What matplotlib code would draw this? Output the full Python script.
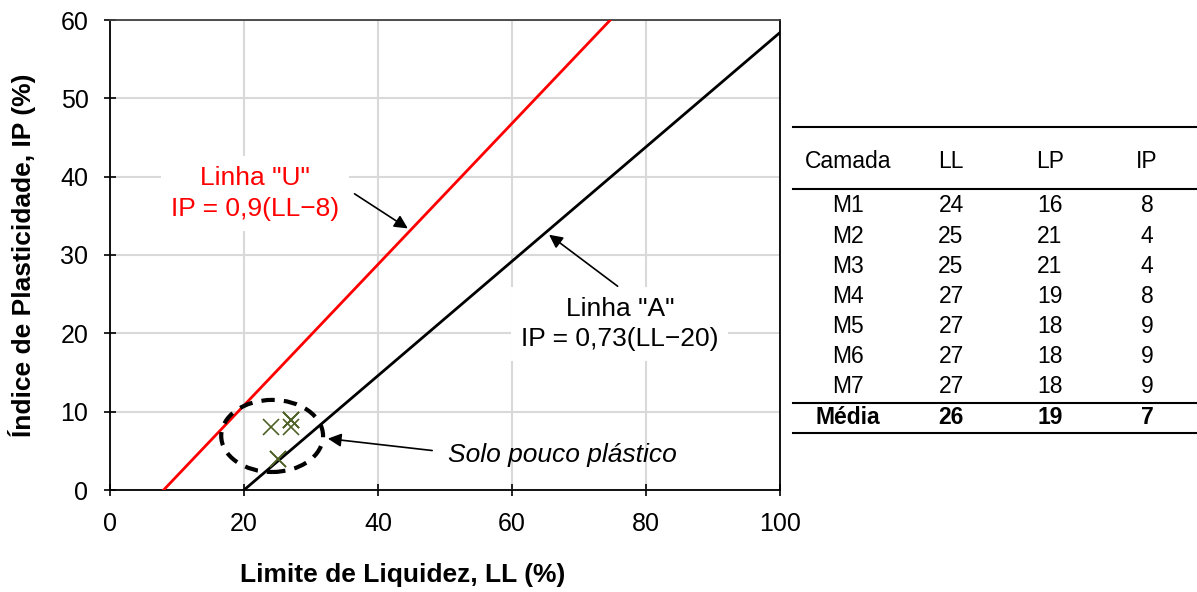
import numpy as np
import matplotlib
matplotlib.use("Agg")
import matplotlib.pyplot as plt
from matplotlib.patches import Ellipse
from matplotlib.lines import Line2D

plt.rcParams["font.family"] = ["Liberation Sans", "DejaVu Sans"]

# sample data (LL, IP) per layer
camadas = ["M1", "M2", "M3", "M4", "M5", "M6", "M7"]
ll = [24, 25, 25, 27, 27, 27, 27]
lp = [16, 21, 21, 19, 18, 18, 18]
ip = [8, 4, 4, 8, 9, 9, 9]
media = ["Média", "26", "19", "7"]
headers = ["Camada", "LL", "LP", "IP"]

# Casagrande reference lines
u_slope, u_ll0 = 0.9, 8
a_slope, a_ll0 = 0.73, 20

fig = plt.figure(figsize=(11.97, 5.92), dpi=100)
ax = fig.add_axes([110 / 1197, 102 / 592, 670 / 1197, 470 / 592])

ax.set_xlim(0, 100)
ax.set_ylim(0, 60)
ax.set_xticks(np.arange(0, 101, 20))
ax.set_yticks(np.arange(0, 61, 10))
ax.grid(color="#d9d9d9", linewidth=1.5)
ax.set_axisbelow(True)
ax.tick_params(direction="inout", length=9, width=1.2, labelsize=18, pad=11)
for s in ["left", "bottom", "right"]:
    ax.spines[s].set_color("black")
    ax.spines[s].set_linewidth(1.3)
ax.spines["top"].set_color("#404040")
ax.spines["top"].set_linewidth(1.3)

xu = np.array([u_ll0, 60 / u_slope + u_ll0])
ax.plot(xu, u_slope * (xu - u_ll0), color="red", linewidth=2, zorder=3)
xa = np.array([a_ll0, 100])
ax.plot(xa, a_slope * (xa - a_ll0), color="black", linewidth=2, zorder=3)

ax.plot(ll, ip, linestyle="none", marker="x", markersize=12, mew=1.2,
        color="#4f6228", zorder=4)

ax.add_patch(Ellipse((24.2, 6.9), 15.2, 9.2, fill=False, edgecolor="black",
                     linewidth=3, linestyle=(0, (3.2, 2.2)), zorder=5))

# annotations
ax.text(21.6, 37.85, 'Linha "U"\nIP = 0,9(LL\u22128)', color="red", fontsize=19,
        ha="center", va="center", linespacing=1.35, zorder=6,
        bbox=dict(facecolor="white", edgecolor="none", pad=7))
ax.annotate("", xy=(44.8, 33.2), xytext=(36.1, 37.9), zorder=6,
            arrowprops=dict(arrowstyle="-|>", color="black", lw=1.2,
                            mutation_scale=20,
                            connectionstyle="angle,angleA=0,angleB=-33,rad=0"))

ax.text(76.1, 21.2, 'Linha "A"\nIP = 0,73(LL\u221220)', color="black", fontsize=19,
        ha="center", va="center", linespacing=1.35, zorder=6,
        bbox=dict(facecolor="white", edgecolor="none", pad=7))
ax.annotate("", xy=(65.2, 32.8), xytext=(76.1, 25.8), zorder=6,
            arrowprops=dict(arrowstyle="-|>", color="black", lw=1.2,
                            mutation_scale=20))

ax.text(67.5, 4.47, "Solo pouco plástico", fontsize=19, style="italic",
        ha="center", va="center", zorder=6)
ax.annotate("", xy=(32.1, 6.6), xytext=(48.5, 5.0), zorder=6,
            arrowprops=dict(arrowstyle="-|>", color="black", lw=1.2,
                            mutation_scale=20))

fig.text(22 / 1197, 1 - 255 / 592, "Índice de Plasticidade, IP (%)", rotation=90,
         fontsize=19, fontweight="bold", ha="center", va="center")
fig.text(403 / 1197, 1 - 575 / 592, "Limite de Liquidez, LL (%)",
         fontsize=19, fontweight="bold", ha="center", va="center")

# table on the right, drawn in pixel coordinates
tax = fig.add_axes([0, 0, 1, 1])
tax.set_xlim(0, 1197)
tax.set_ylim(592, 0)
tax.axis("off")
col_x = [848, 951, 1050, 1147]
row_y0, row_dy = 206, 30.1
for cx, h in zip(col_x, headers):
    tax.text(cx, 162, h, fontsize=16.5, ha="center", va="center")
for i, name in enumerate(camadas):
    y = row_y0 + i * row_dy
    for cx, v in zip(col_x, [name, ll[i], lp[i], ip[i]]):
        tax.text(cx, y, str(v), fontsize=16.5, ha="center", va="center")
for cx, v in zip(col_x, media):
    tax.text(cx, 418, v, fontsize=16.5, fontweight="bold", ha="center", va="center")
for yl in [127, 189, 403, 433]:
    tax.add_line(Line2D([793, 1197], [yl, yl], color="black", linewidth=1.5))

fig.savefig("out.png", dpi=100)
